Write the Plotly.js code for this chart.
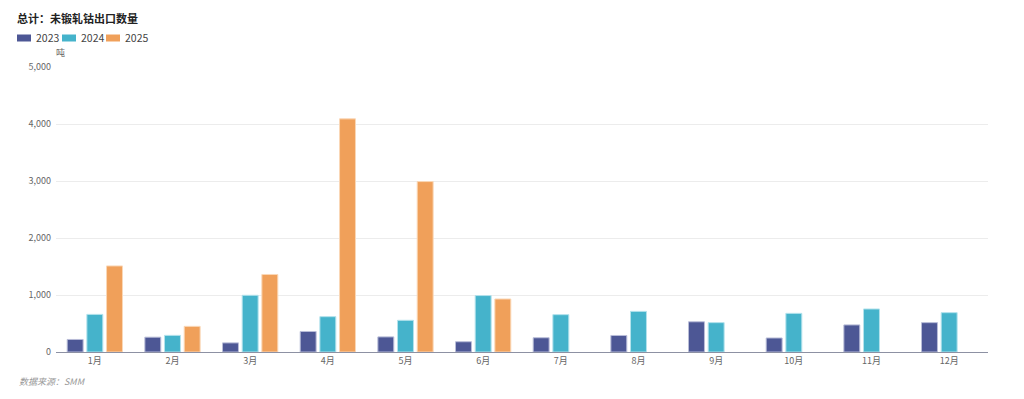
<!DOCTYPE html>
<html>
<head>
<meta charset="utf-8">
<script src="https://cdn.plot.ly/plotly-3.0.1.min.js"></script>
<style>html,body{margin:0;padding:0;background:#fff;}#chart{width:1024px;height:399px;}</style>
</head>
<body>
<div id="chart"></div>
<script>
const months = ["1月","2月","3月","4月","5月","6月","7月","8月","9月","10月","11月","12月"];
const v2023 = [220, 260, 160, 360, 265, 180, 250, 290, 530, 246, 475, 515];
const v2024 = [660, 292, 995, 620, 556, 990, 655, 713, 515, 678, 755, 690];
const v2025 = [1510, 450, 1360, 4090, 2990, 930, null, null, null, null, null, null];
const seriesNames = ["2023","2024","2025"];
const colors = ["#4d5795","#45b3cb","#f0a05a"];
const lineColors = ["#b9bdd8","#b3e2ec","#fad7b6"];

const font = "Noto Sans CJK SC, Noto Sans, sans-serif";
const W = 1024, H = 399, ML = 56, MR = 36, MT = 67, MB = 47;
const plotW = W - ML - MR, plotH = H - MT - MB;
const px = x => (x - ML) / plotW;
const py = y => (H - MB - y) / plotH;

const traces = [v2023, v2024, v2025].map((vals, i) => ({
  type: "bar",
  name: seriesNames[i],
  x: months,
  y: vals,
  marker: {color: colors[i], line: {color: lineColors[i], width: 1}},
  showlegend: false
}));

// custom legend (swatch + label)
const shapes = [];
const annotations = [];
const legendStarts = [17, 62, 106];
seriesNames.forEach((name, i) => {
  const x0 = legendStarts[i];
  shapes.push({type: "rect", xref: "paper", yref: "paper",
    x0: px(x0), x1: px(x0 + 14), y0: py(41.5), y1: py(34.5),
    fillcolor: colors[i], line: {width: 0}});
  annotations.push({text: name, xref: "paper", yref: "paper",
    x: px(x0 + 17), y: py(38), xanchor: "left", yanchor: "middle",
    showarrow: false, font: {size: 10.5, color: "#444"}});
});
annotations.push({text: "吨", xref: "paper", yref: "paper", x: px(60), y: py(52),
  xanchor: "center", yanchor: "middle", showarrow: false, font: {size: 9, color: "#666"}});
annotations.push({text: "<i>数据来源：SMM</i>", xref: "paper", yref: "paper", x: px(17), y: py(381),
  xanchor: "left", yanchor: "middle", showarrow: false, font: {size: 9, color: "#999"}});

const layout = {
  width: W, height: H,
  margin: {l: ML, r: MR, t: MT, b: MB},
  paper_bgcolor: "#fff", plot_bgcolor: "#fff",
  font: {family: font, size: 10, color: "#666"},
  barmode: "group",
  bargap: 0.24,
  bargroupgap: 0.19,
  showlegend: false,
  title: {text: "<b>总计：未锻轧钴出口数量</b>", xref: "container", yref: "container",
          x: 17 / W, xanchor: "left", y: 1 - 19 / H, yanchor: "middle",
          font: {size: 11, color: "#222", family: font}},
  xaxis: {
    type: "category",
    showgrid: false,
    showline: true, linecolor: "#8d91a3", linewidth: 1,
    ticks: "", tickfont: {size: 9, color: "#666"},
    fixedrange: true
  },
  yaxis: {
    range: [0, 5000],
    tickvals: [0, 1000, 2000, 3000, 4000, 5000],
    ticktext: ["0", "1,000", "2,000", "3,000", "4,000", "5,000"],
    showgrid: true, gridcolor: "#ececec", gridwidth: 1,
    zeroline: false, showline: false,
    ticks: "", tickfont: {size: 9, color: "#666"},
    ticklabelstandoff: 4,
    fixedrange: true
  },
  shapes: shapes,
  annotations: annotations
};

Plotly.newPlot("chart", traces, layout, {displayModeBar: false, staticPlot: true});
</script>
</body>
</html>
